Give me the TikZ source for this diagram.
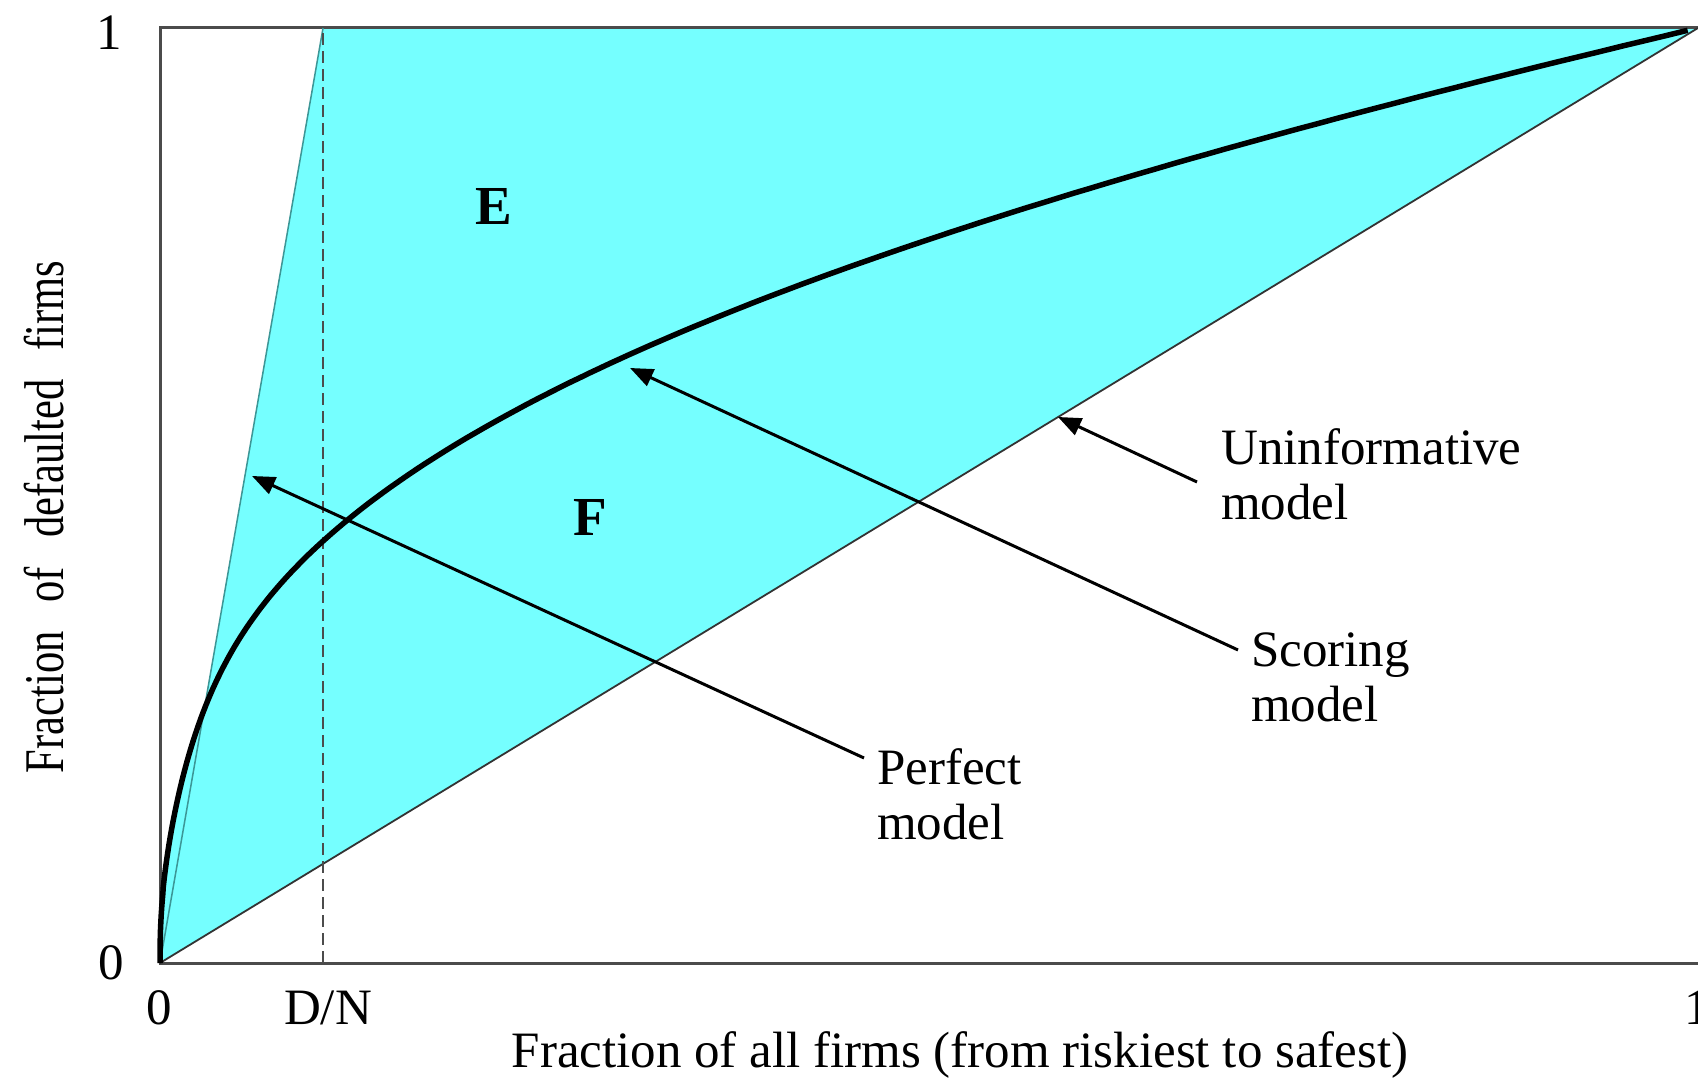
\documentclass[tikz,border=0pt]{standalone}
\usepackage{fontspec}
\setmainfont{Liberation Serif}
\usetikzlibrary{arrows.meta}
\definecolor{roccyan}{RGB}{117,255,255}
\definecolor{framegray}{RGB}{75,75,75}
\definecolor{edgeteal}{RGB}{60,150,150}

\begin{document}
\begin{tikzpicture}[x=1pt,y=1pt,
  frame/.style={draw=framegray, line width=3pt},
  thinline/.style={draw=black!80, line width=1.8pt},
  edgeline/.style={draw=edgeteal, line width=1.5pt},
  guide/.style={draw=black!70, line width=1.6pt, dash pattern=on 12pt off 6pt},
  scorecurve/.style={draw=black, line width=5.5pt},
  pointer/.style={draw=black, line width=3pt, -{Triangle[length=23pt,width=18pt]}},
  lbl/.style={font=\fontsize{51}{55}\selectfont, inner sep=0pt, align=left, anchor=north west},
  tick/.style={font=\fontsize{51}{55}\selectfont, inner sep=0pt, anchor=base},
  region/.style={font=\fontsize{55}{60}\selectfont\bfseries, inner sep=0pt},
  declare function={cap(\t)=exp((0.35+0.07*exp(-(\t^3)/0.02)+0.04*(\t^3))*3*ln(\t));}
]
\useasboundingbox (0,0) rectangle (1698,1077);
\fill[white] (0,0) rectangle (1698,1077);

% data area: unit square mapped onto the plot frame
\begin{scope}[shift={(160,114)}, x=1538pt, y=935pt]
  \coordinate (O) at (0,0);
  \coordinate (DNtop) at (0.106,1);
  \coordinate (DNbot) at (0.106,0);
  \coordinate (TR) at (1,1);

  % shaded area between perfect/scoring curves and the diagonal
  \fill[roccyan] (O) -- (DNtop) -- (TR) -- cycle;
  \fill[roccyan] (O) -- plot[domain=0.02:1, samples=200] ({\x^3},{cap(\x)}) -- cycle;
\end{scope}

% plot frame
\draw[frame] (160,114) rectangle (1700,1049);

\begin{scope}[shift={(160,114)}, x=1538pt, y=935pt]
  % perfect model and uninformative model
  \draw[edgeline] (O) -- (DNtop);
  \draw[thinline] (O) -- (TR);
  % D/N guide
  \draw[guide] (DNbot) -- (DNtop);
  % scoring model
  \draw[scorecurve] (O) -- plot[domain=0.02:1, samples=200] ({\x^3},{cap(\x)});
\end{scope}

% labels
\node[lbl] (uninf) at (1221,649) {Uninformative\\model};
\node[lbl] (scoring) at (1251,444) {Scoring\\model};
\node[lbl] (perfect) at (877,329) {Perfect\\model};

% arrows from labels to the curves
\coordinate (utail) at (1197,595);
\coordinate (utip) at (1058,660);
\coordinate (stail) at (1238,427);
\coordinate (stip) at (630,709);
\coordinate (ptail) at (864,319);
\coordinate (ptip) at (252,601);
\draw[pointer] (utail) -- (utip);
\draw[pointer] (stail) -- (stip);
\draw[pointer] (ptail) -- (ptip);

% region letters
\node[region] (E) at (494,870) {E};
\node[region] (F) at (590,560) {F};

% tick labels
\node[tick] (yone) at (109,1027) {1};
\node[tick] (yzero) at (111,98) {0};
\node[tick] (xzero) at (159,53) {0};
\node[tick] (xdn) at (328,53) {D/N};
\node[tick, anchor=base west] (xone) at (1684,53) {1};

% axis titles
\node[tick] (xtitle) at (960,10) {Fraction of all firms (from riskiest to safest)};
\node[rotate=90, anchor=base, inner sep=0pt, font=\fontsize{56}{60}\selectfont] (ytitle) at (63,560)
  {\scalebox{0.76}[1]{\spaceskip=38pt Fraction of defaulted firms}};
\end{tikzpicture}
\end{document}
